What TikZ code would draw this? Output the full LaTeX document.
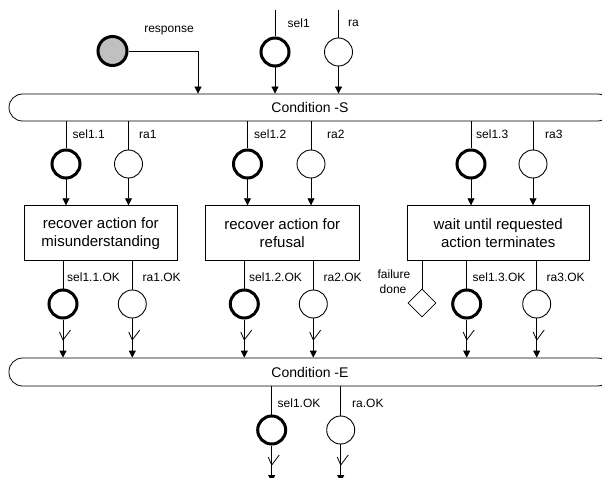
\documentclass[tikz,border=0pt]{standalone}
\usepackage{fontspec}
\setmainfont{Liberation Sans}
\usetikzlibrary{arrows.meta,shapes.geometric}
\begin{document}
\begin{tikzpicture}[x=1pt,y=-1pt,
  conn/.style={line width=0.8pt,draw=black},
  arr/.style={conn,-{Triangle[width=7pt,length=7pt]}},
  thinplace/.style={circle,draw,line width=0.9pt,minimum size=28pt,inner sep=0pt},
  thickplace/.style={circle,draw,line width=3pt,minimum size=28pt,inner sep=0pt},
  respplace/.style={circle,draw,fill={rgb,255:red,192;green,192;blue,192},line width=3pt,minimum size=29pt,inner sep=0pt},
  cond/.style={draw,line width=0.8pt,rounded corners=13.5pt,minimum width=602pt,inner sep=0pt,font=\fontsize{14}{16}\selectfont},
  actbox/.style={draw,line width=0.8pt,align=center,minimum height=55pt,inner sep=0pt,font=\fontsize{15}{18}\selectfont},
  lbl/.style={inner sep=0pt,anchor=west,font=\fontsize{12}{14}\selectfont},
  fdiamond/.style={diamond,draw,line width=0.8pt,minimum width=28pt,minimum height=28pt,inner sep=0pt},
  tickmark/.pic={\draw[conn] (-3.5,-8) -- (0,0) -- (7.5,-10);}
]
\useasboundingbox (0,0) rectangle (602,478);
\clip (0,0) rectangle (602,478);

% ---- top ----
\node[respplace] (resp) at (112.5,51) {};
\node[lbl,anchor=center] (lresp) at (169,31) {response};
\coordinate (respcorner) at (198,51);
\coordinate (sel1top) at (275,10);
\coordinate (ratop) at (338.5,10);
\node[thickplace] (sel1) at (275,52) {};
\node[thinplace] (ra) at (338.5,52) {};
\node[lbl] (lsel1) at (287.5,23) {sel1};
\node[lbl] (lra) at (348,23) {ra};

\node[cond,minimum height=27pt] (condS) at (310,107.5) {Condition -S};

\draw[arr] (resp) -- (respcorner) -- (respcorner |- condS.north);
\draw[conn] (sel1top) -- (sel1);
\draw[arr] (sel1) -- (sel1 |- condS.north);
\draw[conn] (ratop) -- (ra);
\draw[arr] (ra) -- (ra |- condS.north);

% ---- middle ----
\node[actbox,minimum width=153.3pt] (box1) at (100.7,233.2) {recover action for\\misunderstanding};
\node[actbox,minimum width=154.3pt] (box2) at (282.2,233.2) {recover action for\\refusal};
\node[actbox,minimum width=181.7pt] (box3) at (498.2,233.2) {wait until requested\\action terminates};

\node[thickplace] (c11) at (66,164) {};
\node[thinplace] (r1) at (128.5,164) {};
\node[thickplace] (c12) at (247.5,164) {};
\node[thinplace] (r2) at (311,164) {};
\node[thickplace] (c13) at (471,164) {};
\node[thinplace] (r3) at (533,164) {};

\node[lbl] (lc11) at (72.5,134) {sel1.1};
\node[lbl] (lr1) at (139,134) {ra1};
\node[lbl] (lc12) at (254,134) {sel1.2};
\node[lbl] (lr2) at (327,134) {ra2};
\node[lbl] (lc13) at (476,134) {sel1.3};
\node[lbl] (lr3) at (545,134) {ra3};

\foreach \n/\b in {c11/box1,r1/box1,c12/box2,r2/box2,c13/box3,r3/box3}{
  \draw[conn] (\n |- condS.south) -- (\n);
  \draw[arr] (\n) -- (\n |- \b.north);
}

% ---- lower ----
\node[cond,minimum height=28pt] (condE) at (310,372) {Condition -E};
\coordinate (tickrow) at (0,340);

\node[thickplace] (o11) at (63,304) {};
\node[thinplace] (oa1) at (132.3,304) {};
\node[thickplace] (o12) at (244.3,304) {};
\node[thinplace] (oa2) at (313.3,304) {};
\node[fdiamond] (fd) at (422,303) {};
\node[thickplace] (o13) at (466.7,304) {};
\node[thinplace] (oa3) at (536.7,304) {};

\node[lbl] (lo11) at (67,277) {sel1.1.OK};
\node[lbl] (loa1) at (142.5,277) {ra1.OK};
\node[lbl] (lo12) at (249,277) {sel1.2.OK};
\node[lbl] (loa2) at (323.5,277) {ra2.OK};
\node[lbl] (lo13) at (472.5,277) {sel1.3.OK};
\node[lbl] (loa3) at (546.5,277) {ra3.OK};
\node[lbl,anchor=center] (lfail) at (394,274) {failure};
\node[lbl,anchor=center] (ldone) at (393,289) {done};

\draw[conn] (fd |- box3.south) -- (fd);
\foreach \n/\b in {o11/box1,oa1/box1,o12/box2,oa2/box2,o13/box3,oa3/box3}{
  \draw[conn] (\n |- \b.south) -- (\n);
  \draw[arr] (\n) -- (\n |- condE.north);
  \pic at (\n |- tickrow) {tickmark};
}

% ---- bottom ----
\node[thickplace] (fo) at (271.7,430) {};
\node[thinplace] (fra) at (340.7,430) {};
\node[lbl] (lfo) at (277.5,403) {sel1.OK};
\node[lbl] (lfra) at (352,403) {ra.OK};
\coordinate (bot1) at (271.7,482);
\coordinate (bot2) at (340.7,482);
\coordinate (tickrow2) at (0,465);
\draw[conn] (fo |- condE.south) -- (fo);
\draw[arr] (fo) -- (bot1);
\pic at (fo |- tickrow2) {tickmark};
\draw[conn] (fra |- condE.south) -- (fra);
\draw[arr] (fra) -- (bot2);
\pic at (fra |- tickrow2) {tickmark};
\end{tikzpicture}
\end{document}
